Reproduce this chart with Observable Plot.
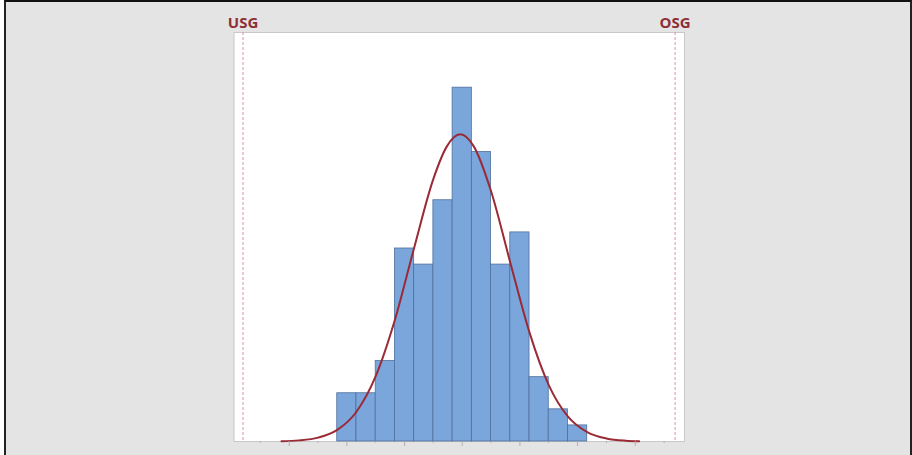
<!DOCTYPE html>
<html>
<head>
<meta charset="utf-8">
<script src="https://cdn.jsdelivr.net/npm/d3@7"></script>
<script src="https://cdn.jsdelivr.net/npm/@observablehq/plot@0.6"></script>
<style>
  html, body { margin: 0; padding: 0; background: #e4e4e4; }
  #wrap { position: relative; width: 912px; height: 455px; overflow: hidden; }
  #frame { position: absolute; left: 4px; top: 0; width: 904px; height: 470px;
           border-top: 2px solid #111; border-left: 2px solid #222; border-right: 2px solid #222;
           pointer-events: none; }
  #white { position: absolute; left: 0; top: 0; width: 4px; height: 455px; background: #fff; }
  svg { display: block; }
</style>
</head>
<body>
<div id="wrap"><div id="chart"></div><div id="white"></div><div id="frame"></div></div>
<script>
// Histogram bins (lower/upper edges) and counts
const binEdges = [9.35, 9.45, 9.55, 9.65, 9.75, 9.85, 9.95, 10.05, 10.15, 10.25, 10.35, 10.45, 10.55, 10.65];
const counts   = [3, 3, 5, 12, 11, 15, 22, 18, 11, 13, 4, 2, 1];

// Fitted normal curve
const curveX = [9.06, 9.15, 9.25, 9.35, 9.45, 9.55, 9.65, 9.75, 9.85, 9.92, 9.99, 10.06, 10.15, 10.25, 10.35, 10.45, 10.55, 10.65, 10.75, 10.85, 10.92];
const curveY = [0.02, 0.07, 0.24, 0.72, 1.85, 4.06, 7.57, 12.05, 16.33, 18.35, 19.1, 18.35, 15.56, 11.12, 6.77, 3.51, 1.55, 0.59, 0.19, 0.05, 0.02];

// Specification limits
const limitLabels = ["USG", "OSG"];
const limitValues = [8.86, 11.107];

// Axis ticks
const majorTicks = [9.1, 9.4, 9.7, 10.0, 10.3, 10.6, 10.9];
const minorTicks = [8.95, 9.25, 9.55, 9.85, 10.15, 10.45, 10.75, 11.05];

const bins = counts.map((c, i) => ({x1: binEdges[i], x2: binEdges[i + 1], count: c}));
const curve = curveX.map((x, i) => ({x, y: curveY[i]}));
const limits = limitLabels.map((label, i) => ({label, value: limitValues[i]}));

const chart = Plot.plot({
  width: 912,
  height: 455,
  marginLeft: 233.5,
  marginRight: 228,
  marginTop: 32,
  marginBottom: 14,
  style: {background: "transparent", fontFamily: "'Open Sans', sans-serif"},
  x: {domain: [8.813, 11.156], axis: null},
  y: {domain: [0, 25.43], axis: null},
  marks: [
    Plot.frame({fill: "#ffffff", stroke: "#c8c8c8"}),
    Plot.rectY(bins, {x1: "x1", x2: "x2", y: "count", fill: "#7ba6dc", stroke: "#4f6f9c", strokeWidth: 0.8}),
    Plot.line(curve, {x: "x", y: "y", curve: "monotone-x", stroke: "#9a2a36", strokeWidth: 2}),
    Plot.ruleX(limits, {x: "value", stroke: "#e0939a", strokeWidth: 1, strokeDasharray: "3,2"}),
    Plot.text(limits, {x: "value", text: "label", frameAnchor: "top", lineAnchor: "bottom", dy: -5,
      fill: "#8e2e36", fontWeight: "bold", fontSize: 15}),
    Plot.axisX(majorTicks, {tickSize: 5, tickFormat: () => "", stroke: "#b0b0b0", strokeOpacity: 1}),
    Plot.axisX(minorTicks, {tickSize: 2, tickFormat: () => "", stroke: "#b0b0b0", strokeOpacity: 1})
  ]
});
document.getElementById("chart").appendChild(chart);
</script>
</body>
</html>
